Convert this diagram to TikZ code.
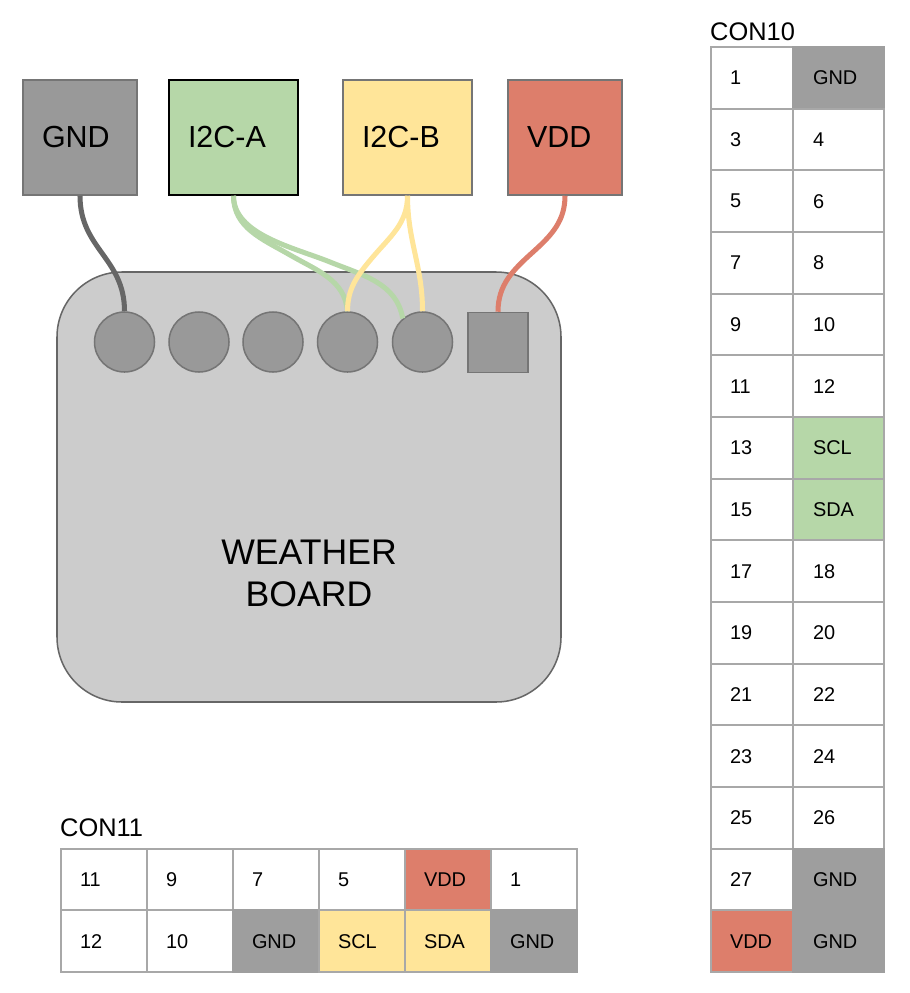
\documentclass[tikz,border=0pt]{standalone}
\usepackage{fontspec}
\setmainfont{Liberation Sans}
\definecolor{boardgray}{HTML}{CCCCCC}
\definecolor{edgegray}{HTML}{666666}
\definecolor{boxline}{HTML}{757575}
\definecolor{padgray}{HTML}{999999}
\definecolor{cellgray}{HTML}{9E9E9E}
\definecolor{cellline}{HTML}{A8A8A8}
\definecolor{i2cgreen}{HTML}{B6D7A8}
\definecolor{i2cyellow}{HTML}{FFE599}
\definecolor{vddred}{HTML}{DD7E6B}
\begin{document}
\begin{tikzpicture}[
    terminal/.style={rectangle, draw=boxline, line width=1.3pt, align=left, inner xsep=0.57cm, text width=2.28cm, minimum height=3.45cm, font=\fontsize{26}{30}\selectfont},
    wideterminal/.style={terminal, text width=2.73cm},
    pad/.style={circle, draw=boxline, fill=padgray, line width=1.3pt, minimum size=1.8cm, inner sep=0pt},
    squarepad/.style={rectangle, draw=boxline, fill=padgray, line width=1.3pt, minimum size=1.8cm, inner sep=0pt},
    wire/.style={line width=4.3pt},
    title/.style={anchor=base west, inner sep=0pt, font=\fontsize{21.7}{26}\selectfont},
    cellbase/.style={rectangle, draw=cellline, line width=1.7pt, align=left, inner xsep=0.57cm, minimum height=1.85cm, font=\fontsize{17}{20}\selectfont},
    leftcell/.style={cellbase, text width=1.32cm},
    rightcell/.style={cellbase, inner xsep=0.6cm, text width=1.53cm},
    wirecell/.style={cellbase, text width=1.44cm},
    groundcell/.style={fill=cellgray, draw=cellgray}
  ]
    \useasboundingbox (0,0) rectangle (27.27,-29.79);

    % Weather board and its connectors
    \node[rectangle, draw=edgegray, fill=boardgray, line width=1.3pt, rounded corners=1.95cm, minimum width=15.12cm, minimum height=12.9cm] (board) at (9.27,-14.61) {};
    \node[align=center, font=\fontsize{30.4}{36}\selectfont] (boardname) at (9.27,-17.205) {WEATHER\\BOARD};
    \node[pad] (pad1) at (3.735,-10.26) {};
    \node[pad] (pad2) at (5.97,-10.26) {};
    \node[pad] (pad3) at (8.19,-10.26) {};
    \node[pad] (pad4) at (10.425,-10.26) {};
    \node[pad] (pad5) at (12.675,-10.26) {};
    \node[squarepad] (pad6) at (14.94,-10.275) {};

    % Signal boxes
    \node[terminal, fill=padgray] (gnd) at (2.4,-4.125) {GND};
    \node[wideterminal, fill=i2cgreen, draw=black] (i2ca) at (7.005,-4.125) {I2C-A};
    \node[wideterminal, fill=i2cyellow] (i2cb) at (12.225,-4.125) {I2C-B};
    \node[terminal, fill=vddred] (vdd) at (16.95,-4.125) {VDD};

    % Bend points of the wires
    \coordinate (greenlow) at (8.7,-7.65);
    \coordinate (greenhigh) at (9.9,-7.86);
    \coordinate (yellowbend) at (11.16,-7.74);
    \coordinate (vddbend) at (15.99,-7.56);

    % Wires
    \draw[wire, edgegray] (gnd.south) to[out=-90, in=90, looseness=1.1] (pad1.north);
    \draw[wire, i2cgreen] (i2ca.south) to[out=-90, in=150] (greenlow) to[out=-30, in=95] (pad4.north);
    \draw[wire, i2cgreen] (i2ca.south) to[out=-90, in=158, looseness=0.85] (greenhigh) to[out=-22, in=100] (pad5.130);
    \draw[wire, i2cyellow] (i2cb.south) to[out=-90, in=50] (yellowbend) to[out=-130, in=90] (pad4.north);
    \draw[wire, i2cyellow] (i2cb.south) to[out=-90, in=90, looseness=1] (pad5.north);
    \draw[wire, vddred] (vdd.south) to[out=-90, in=42] (vddbend) to[out=-138, in=90] (pad6.north);

    % CON10 header
    \node[title] (con10) at (21.3,-1.2) {CON10};
    \node[leftcell] (a1) at (22.56,-2.335) {1};
    \node[rightcell, groundcell] (b1) at (25.155,-2.335) {GND};
    \node[leftcell] (a3) at (22.56,-4.185) {3};
    \node[rightcell] (b3) at (25.155,-4.185) {4};
    \node[leftcell] (a5) at (22.56,-6.035) {5};
    \node[rightcell] (b5) at (25.155,-6.035) {6};
    \node[leftcell] (a7) at (22.56,-7.885) {7};
    \node[rightcell] (b7) at (25.155,-7.885) {8};
    \node[leftcell] (a9) at (22.56,-9.735) {9};
    \node[rightcell] (b9) at (25.155,-9.735) {10};
    \node[leftcell] (a11) at (22.56,-11.585) {11};
    \node[rightcell] (b11) at (25.155,-11.585) {12};
    \node[leftcell] (a13) at (22.56,-13.435) {13};
    \node[rightcell, fill=i2cgreen] (b13) at (25.155,-13.435) {SCL};
    \node[leftcell] (a15) at (22.56,-15.285) {15};
    \node[rightcell, fill=i2cgreen] (b15) at (25.155,-15.285) {SDA};
    \node[leftcell] (a17) at (22.56,-17.135) {17};
    \node[rightcell] (b17) at (25.155,-17.135) {18};
    \node[leftcell] (a19) at (22.56,-18.985) {19};
    \node[rightcell] (b19) at (25.155,-18.985) {20};
    \node[leftcell] (a21) at (22.56,-20.835) {21};
    \node[rightcell] (b21) at (25.155,-20.835) {22};
    \node[leftcell] (a23) at (22.56,-22.685) {23};
    \node[rightcell] (b23) at (25.155,-22.685) {24};
    \node[leftcell] (a25) at (22.56,-24.535) {25};
    \node[rightcell] (b25) at (25.155,-24.535) {26};
    \node[leftcell] (a27) at (22.56,-26.385) {27};
    \node[rightcell, groundcell] (b27) at (25.155,-26.385) {GND};
    \node[leftcell, fill=vddred] (a29) at (22.56,-28.235) {VDD};
    \node[rightcell, groundcell] (b29) at (25.155,-28.235) {GND};

    % CON11 header
    \node[title] (con11) at (1.8,-25.08) {CON11};
    \node[wirecell] (c11) at (3.12,-26.385) {11};
    \node[wirecell] (c9) at (5.7,-26.385) {9};
    \node[wirecell] (c7) at (8.28,-26.385) {7};
    \node[wirecell] (c5) at (10.86,-26.385) {5};
    \node[wirecell, fill=vddred] (c3) at (13.44,-26.385) {VDD};
    \node[wirecell] (c1) at (16.02,-26.385) {1};
    \node[wirecell] (d12) at (3.12,-28.235) {12};
    \node[wirecell] (d10) at (5.7,-28.235) {10};
    \node[wirecell, groundcell] (d8) at (8.28,-28.235) {GND};
    \node[wirecell, fill=i2cyellow] (d6) at (10.86,-28.235) {SCL};
    \node[wirecell, fill=i2cyellow] (d4) at (13.44,-28.235) {SDA};
    \node[wirecell, groundcell] (d2) at (16.02,-28.235) {GND};

  \end{tikzpicture}
\end{document}
